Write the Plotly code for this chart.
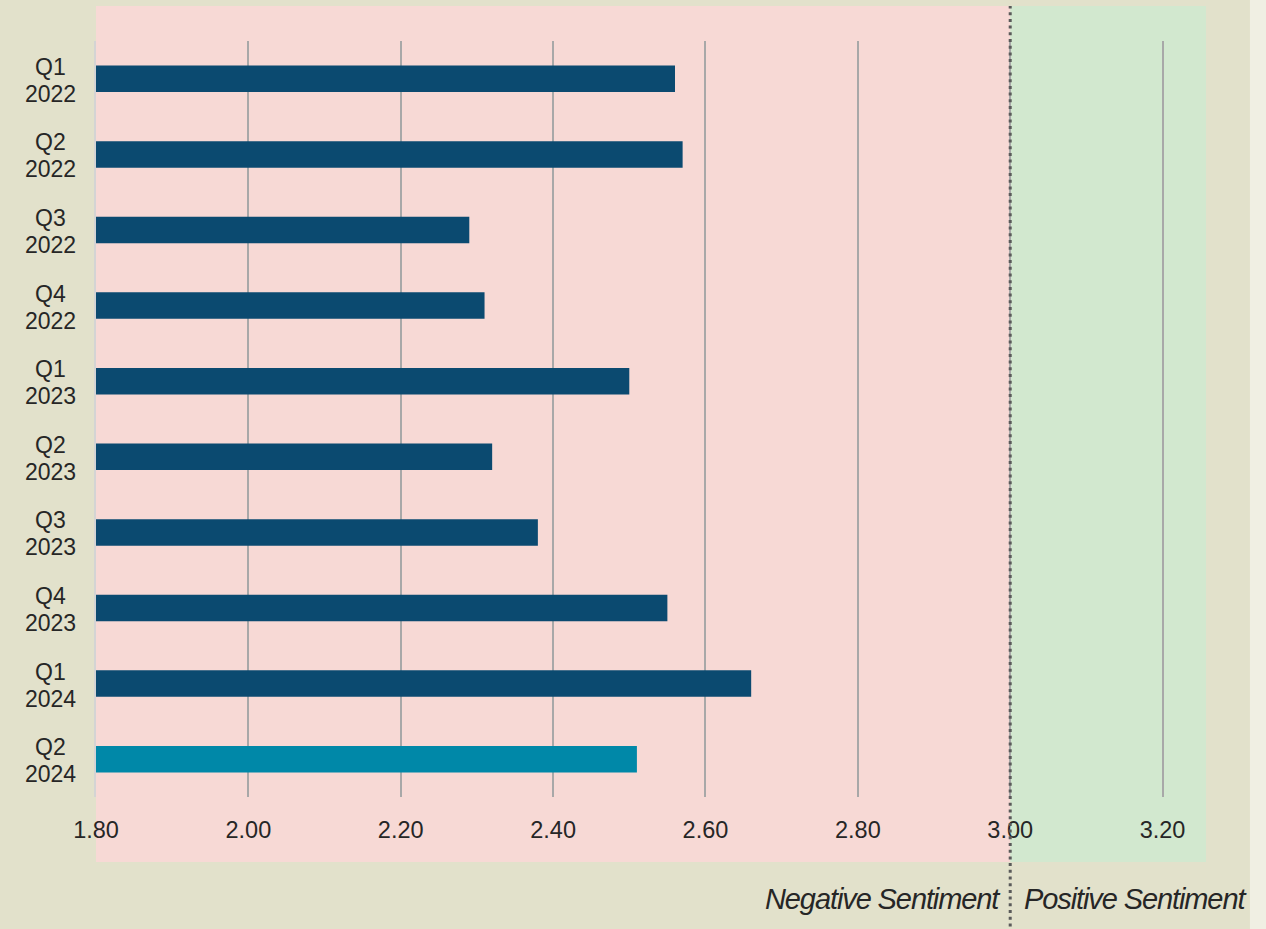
import plotly.graph_objects as go

quarter_names = ["Q1", "Q2", "Q3", "Q4", "Q1", "Q2", "Q3", "Q4", "Q1", "Q2"]
years = ["2022", "2022", "2022", "2022", "2023", "2023", "2023", "2023", "2024", "2024"]
scores = [2.56, 2.57, 2.29, 2.31, 2.50, 2.32, 2.38, 2.55, 2.66, 2.51]
bar_colors = ["#0b4a70"] * 9 + ["#0088a8"]
tick_vals = [1.8, 2.0, 2.2, 2.4, 2.6, 2.8, 3.0, 3.2]
tick_text = ["1.80", "2.00", "2.20", "2.40", "2.60", "2.80", "3.00", "3.20"]
neutral = 3.0
categories = [f"{q} {y}" for q, y in zip(quarter_names, years)]

BEIGE = "#e2e1cb"
FONT = "Liberation Sans, Arial, sans-serif"
TXT = "#262626"

fig = go.Figure()
fig.add_trace(go.Bar(
    y=categories, x=scores, base=0, orientation="h",
    marker=dict(color=bar_colors, line=dict(width=0)),
    width=0.35, hoverinfo="x+y",
))

# background regions
fig.add_shape(type="rect", xref="paper", yref="paper", x0=0, x1=1,
              y0=-0.086, y1=1.0463, fillcolor="#f7d9d5", line_width=0, layer="below")
fig.add_shape(type="rect", xref="x", yref="paper", x0=neutral, x1=3.257,
              y0=-0.086, y1=1.0463, fillcolor="#d2e8cf", line_width=0, layer="below")
fig.add_shape(type="rect", xref="paper", yref="paper", x0=1.0396, x1=1.06,
              y0=-0.2, y1=1.1, fillcolor="#f0efe3", line_width=0, layer="below")
fig.add_shape(type="line", xref="x", yref="paper", x0=neutral, x1=neutral,
              y0=-0.18, y1=1.0463, line=dict(color="#5a5a5a", width=3, dash="3px,3.7px"),
              layer="above")

# y labels centered (two lines)
for cat, q, yr in zip(categories, quarter_names, years):
    fig.add_annotation(x=-0.0414, xref="paper", y=cat, yref="y", text=q,
                       showarrow=False, xanchor="center", yanchor="middle", yshift=12,
                       font=dict(family=FONT, size=23, color=TXT))
    fig.add_annotation(x=-0.0414, xref="paper", y=cat, yref="y", text=yr,
                       showarrow=False, xanchor="center", yanchor="middle", yshift=-15,
                       font=dict(family=FONT, size=23, color=TXT))

fig.add_annotation(x=neutral, xref="x", y=-0.1346, yref="paper",
                   text='<span style="letter-spacing:-1.1px">Negative Sentiment</span>',
                   showarrow=False, xanchor="right", yanchor="middle", xshift=-7,
                   font=dict(family=FONT, size=29, color=TXT, style="italic"))
fig.add_annotation(x=neutral, xref="x", y=-0.1346, yref="paper",
                   text='<span style="letter-spacing:-1.1px">Positive Sentiment</span>',
                   showarrow=False, xanchor="left", yanchor="middle", xshift=12,
                   font=dict(family=FONT, size=29, color=TXT, style="italic"))

fig.update_layout(
    width=1266, height=929,
    margin=dict(l=96, r=60, t=41, b=132),
    paper_bgcolor=BEIGE, plot_bgcolor="rgba(0,0,0,0)",
    showlegend=False,
    font=dict(family=FONT, size=23, color=TXT),
)
fig.update_xaxes(range=[1.8, 3.257], tickvals=tick_vals, ticktext=tick_text,
                 showgrid=True, gridcolor="#a8a8a8", gridwidth=2, zeroline=False,
                 showline=False, ticks="", ticklabelstandoff=16,
                 tickfont=dict(family=FONT, size=23.5, color=TXT))
fig.update_yaxes(autorange="reversed", showticklabels=False, showgrid=False,
                 showline=True, linecolor="#d4d4d4", linewidth=2, zeroline=False, ticks="")

fig.write_html("out.html")
